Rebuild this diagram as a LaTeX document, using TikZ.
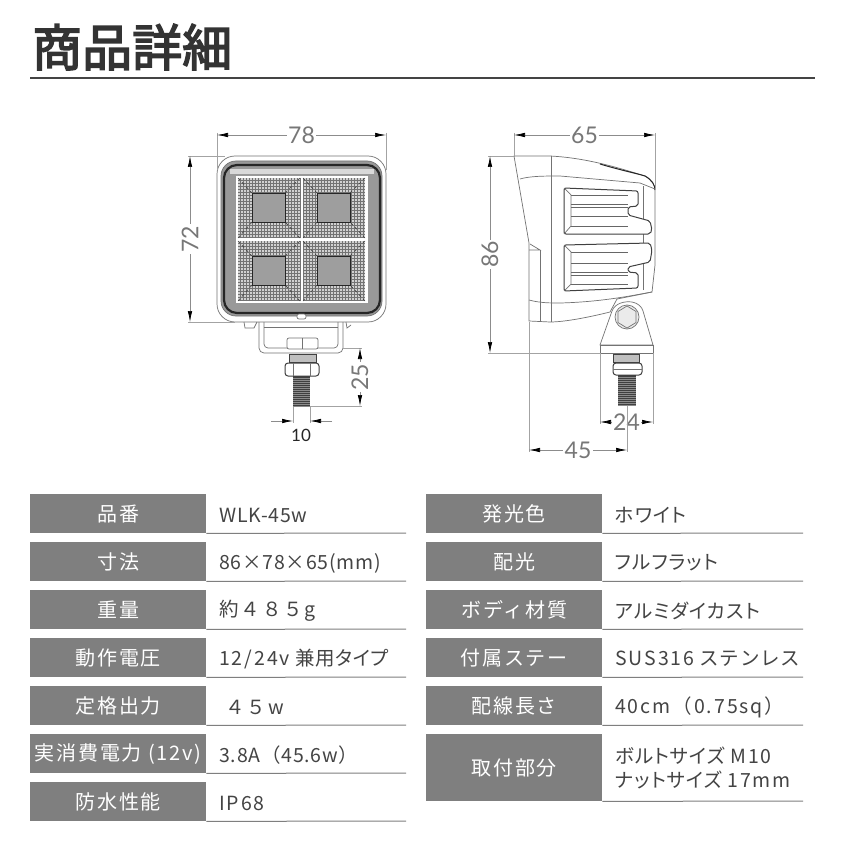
\documentclass[tikz,border=0pt]{standalone}
\usepackage{fontspec}
\setmainfont{Noto Sans CJK JP}
\newfontfamily\headfont[FakeBold=3]{Noto Sans CJK JP}
\newfontfamily\labelfont[LetterSpace=9]{Noto Sans CJK JP}
\newfontfamily\valuefont[LetterSpace=4]{Noto Sans CJK JP}
\newfontfamily\kanafont[RawFeature=+palt,LetterSpace=5]{Noto Sans CJK JP}
\newfontfamily\widefont[LetterSpace=10]{Noto Sans CJK JP}
\newfontfamily\dimfont{Lato}
\newcommand\kn[1]{{\kanafont #1}}
\newcommand\wn[1]{{\widefont #1}}
\usetikzlibrary{arrows.meta}
\definecolor{boxgray}{HTML}{7F7F7F}
\definecolor{inkgray}{HTML}{444444}
\definecolor{dimgray}{HTML}{8C8C8C}
\tikzset{
  speclabel/.style={anchor=north west,fill=boxgray,text=white,minimum width=176pt,minimum height=39pt,inner sep=0pt,font=\labelfont\fontsize{20}{24}\selectfont},
  specvalue/.style={anchor=west,text=inkgray,inner sep=0pt,align=left,font=\valuefont\fontsize{19.5}{24}\selectfont},
  specline/.style={draw=boxgray,line width=1pt},
  dimline/.style={draw=dimgray,line width=0.7pt,{Latex[length=11pt,width=4.5pt,black]}-{Latex[length=11pt,width=4.5pt,black]}},
  dimtip/.style={draw=dimgray,line width=0.7pt,-{Latex[length=11pt,width=4.5pt,black]}},
  extline/.style={draw=dimgray!80,line width=0.7pt},
  dimtext/.style={fill=white,inner sep=1.5pt,text=dimgray!85!black,font=\dimfont\fontsize{23}{23}\selectfont},
  part/.style={draw=black!55,line width=0.7pt},
  darkpart/.style={draw=black!75,line width=1pt}
}
\begin{document}
\begin{tikzpicture}[x=1pt,y=-1pt]
  \useasboundingbox (0,0) rectangle (845,845);
  \fill[white] (0,0) rectangle (845,845);

  % heading
  \node[anchor=west,inner sep=0pt,text=black!80,font=\headfont\fontsize{50}{50}\selectfont] (heading) at (32,47) {商品詳細};
  \draw[inkgray,line width=2.5pt] (30,78) -- (815,78);

  % front view: body
  \draw[part,fill=white,rounded corners=18] (217,156) rectangle (386,322);
  \draw[part,fill=black!40,rounded corners=15] (221,161) rectangle (382,316);
  \draw[black!85,line width=2.2pt,rounded corners=13] (224,165) rectangle (380,313);
  \fill[black!15] (230,169) rectangle (374,174);
  \fill[white] (236,176) rectangle (368,303);
  % lens quadrants
  \foreach \qx/\cx in {238/252,303/317}
    \foreach \qy/\cy in {178/193,241/256} {
      \fill[black!18] (\qx,\qy) rectangle ++(62,60);
      \draw[black!55,line width=0.55pt,step=3pt] (\qx,\qy) grid ++(62,60);
      \draw[black!75,line width=0.6pt,dashed] (\qx,\qy) -- (\cx,\cy);
      \draw[black!75,line width=0.6pt,dashed] (\qx+62,\qy) -- (\cx+33,\cy);
      \draw[black!75,line width=0.6pt,dashed] (\qx,\qy+60) -- (\cx,\cy+29);
      \draw[black!75,line width=0.6pt,dashed] (\qx+62,\qy+60) -- (\cx+33,\cy+29);
      \draw[black!85,line width=1pt,fill=black!38] (\cx,\cy) rectangle ++(33,29);
    }
  \draw[part,fill=white,rounded corners=2] (297,314) rectangle (306,319);

  % front view: bracket and bolt
  \draw[part] (244,322) -- (245,328) -- (254,328) -- (257,322);
  \draw[part] (346,322) -- (347,328) -- (351,325);
  \draw[part,rounded corners=5] (259,322) -- (259,353) -- (343,353) -- (343,322);
  \draw[part,rounded corners=4] (264,322) -- (264,348) -- (338,348) -- (338,322);
  \draw[part] (264,327) -- (338,327);
  \draw[part,fill=white,rounded corners=2] (287,338) rectangle (318,349);
  \draw[part] (302,338) -- (302,349);
  \draw[darkpart,fill=black!25] (289,354) rectangle (316,362);
  \draw[darkpart,fill=white,rounded corners=3] (285,363) rectangle (319,376);
  \draw[part] (293,363) -- (293,376) (310,363) -- (310,376);
  \fill[black!75] (293,376) rectangle (310,407);
  \foreach \ty in {378,380,...,406} \draw[black!45,line width=0.5pt] (293,\ty) -- (310,\ty);

  % front view: dimensions
  \draw[extline] (217,133) -- (217,170);
  \draw[extline] (386,133) -- (386,170);
  \draw[dimline] (217,135) -- node[dimtext] (widthlbl) {78} (386,135);
  \draw[extline] (188,156) -- (225,156);
  \draw[extline] (188,322) -- (235,322);
  \draw[dimline] (190,156) -- node[dimtext,rotate=90] (heightlbl) {72} (190,322);
  \draw[extline] (343,348) -- (362,348);
  \draw[extline] (310,406) -- (362,406);
  \draw[dimline] (360,348) -- node[dimtext,rotate=90] (boltlbl) {25} (360,406);
  \draw[extline] (293,407) -- (293,423);
  \draw[extline] (310,407) -- (310,423);
  \draw[dimtip] (271,421) -- (293,421);
  \draw[dimtip] (332,421) -- (310,421);
  \node[inner sep=0pt,text=black!85,font=\dimfont\fontsize{17}{17}\selectfont] (boltdia) at (301,435) {10};

  % side view: body
  \draw[part,fill=white] (514,156) -- (550,156) .. controls (590,158) and (625,170) .. (645,176)
    .. controls (652,180) and (655,185) .. (655,190) -- (655,265) -- (652,292) -- (617,299)
    -- (610,312) .. controls (590,317) and (565,322) .. (550,322) -- (529,321) -- (529,243) -- cycle;
  \draw[black!85,line width=1pt] (600,164) .. controls (620,170) and (635,173) .. (645,176)
    .. controls (652,180) and (655,185) .. (655,190);
  \draw[part] (520,179) .. controls (530,176) and (545,176) .. (560,176) -- (640,183) -- (655,189);
  \draw[part] (529,300) .. controls (540,303) and (550,303) .. (560,303) .. controls (600,302) and (630,296) .. (652,292);
  \draw[part] (551,156) -- (551,322);
  \draw[part] (540,250) -- (540,322);
  \draw[part] (529,250) -- (540,250) -- (530,244);
  \draw[part] (643,186) -- (643,290);
  % side view: cooling fins
  \draw[darkpart,fill=white,rounded corners=2] (564,188) -- (638,191) -- (638,206) -- (628,207) -- (628,215)
    -- (650,221) -- (652,230) -- (650,234) -- (564,234) -- cycle;
  \draw[darkpart,fill=white,rounded corners=2] (564,245) -- (650,243) -- (652,250) -- (650,262) -- (628,267)
    -- (628,272) -- (638,273) -- (638,288) -- (564,291) -- cycle;
  \foreach \ya/\yb in {195/195,204/204,207/207,216/216,226/226,252/252,263/263,272/272,275/275,284/284}
    \draw[black!60,line width=0.8pt] (571,\ya) -- (628,\yb);
  \draw[part] (564,188) -- (571,195) -- (571,226) -- (564,234);
  \draw[part] (564,245) -- (571,252) -- (571,284) -- (564,291);

  % side view: mount and bolt
  \draw[part,fill=white] (600,345) -- (612,311) .. controls (615,303) and (625,301) .. (632,302)
    .. controls (638,303) and (642,307) .. (643,311) -- (653,345) -- cycle;
  \draw[part] (600,345) rectangle (653,353);
  \draw[part,fill=black!8] (627,317) circle (12);
  \draw[part] (627,306) -- (636,311.5) -- (636,322.5) -- (627,328) -- (618,322.5) -- (618,311.5) -- cycle;
  \draw[darkpart,fill=black!25] (613,354) rectangle (639,362);
  \draw[darkpart,fill=white,rounded corners=3] (613,363) rectangle (642,375);
  \draw[part] (613,369) -- (642,369);
  \fill[black!75] (618,375) rectangle (636,406);
  \foreach \ty in {377,379,...,405} \draw[black!45,line width=0.5pt] (618,\ty) -- (636,\ty);

  % side view: dimensions
  \draw[extline] (514,133) -- (514,156);
  \draw[extline] (655,133) -- (655,190);
  \draw[dimline] (514,135) -- node[dimtext] (depthlbl) {65} (655,135);
  \draw[extline] (488,156) -- (514,156);
  \draw[extline] (488,353) -- (600,353);
  \draw[dimline] (490,156) -- node[dimtext,rotate=90] (totallbl) {86} (490,353);
  \draw[extline] (600,353) -- (600,424);
  \draw[extline] (653,353) -- (653,424);
  \draw[dimline] (600,422) -- node[dimtext] (mountlbl) {24} (653,422);
  \draw[extline] (529,322) -- (529,452);
  \draw[extline] (627,406) -- (627,452);
  \draw[dimline] (529,450) -- node[dimtext] (offsetlbl) {45} (627,450);

  % spec table, left column
  \foreach \i/\ty/\tlabel/\tvalue in {
      1/494/品番/WLK-45w,
      2/542/寸法/86×78×65(mm),
      3/590/重量/\wn{約４８５g},
      4/638/動作電圧/{\wn{12/24v} 兼用\kn{タイプ}},
      5/686/定格出力/\wn{ ４５w},
      6/734/実消費電力 (12v)/3.8A（45.6w）,
      7/782/防水性能/\wn{IP68}} {
    \node[speclabel] (la\i) at (30,\ty) {\tlabel};
    \node[specvalue] (va\i) at (219,\ty+21) {\tvalue};
    \draw[specline] (la\i.south east) -- (406,\ty+39);
  }

  % spec table, right column
  \foreach \i/\ty/\tlabel/\tvalue in {
      1/494/発光色/\kn{ホワイト},
      2/542/配光/\kn{フルフラット},
      3/590/ボディ材質/\kn{アルミダイカスト},
      4/638/付属ステー/\wn{SUS316} ステンレス,
      5/686/配線長さ/\wn{40cm（0.75sq）}} {
    \node[speclabel] (lb\i) at (426,\ty) {\tlabel};
    \node[specvalue] (vb\i) at (615,\ty+21) {\tvalue};
    \draw[specline] (lb\i.south east) -- (803,\ty+39);
  }
  \node[speclabel,minimum height=67pt] (lb6) at (426,734) {取付部分};
  \node[specvalue] (vb6) at (615,768) {\kn{ボルトサイズ} \wn{M10}\\\kn{ナットサイズ} \wn{17mm}};
  \draw[specline] (lb6.south east) -- (803,801);
\end{tikzpicture}
\end{document}
